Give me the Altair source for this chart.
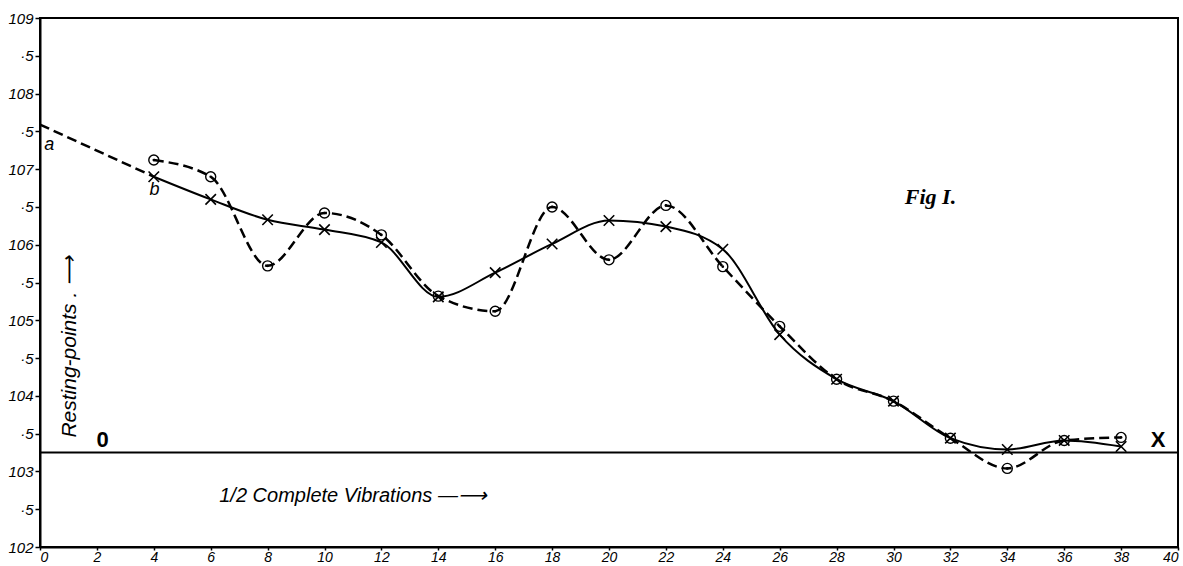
import altair as alt
import pandas as pd

# Half complete vibrations (x) and resting points (y)
half_vibrations = [4, 6, 8, 10, 12, 14, 16, 18, 20, 22, 24, 26, 28, 30, 32, 34, 36, 38]
cross_values = [106.9, 106.6, 106.33, 106.2, 106.03, 105.31, 105.63, 106.01, 106.32,
                106.24, 105.94, 104.81, 104.22, 103.93, 103.44, 103.29, 103.41, 103.33]
circle_values = [107.12, 106.9, 105.72, 106.42, 106.13, 105.32, 105.12, 106.5, 105.8,
                 106.52, 105.71, 104.92, 104.22, 103.93, 103.44, 103.04, 103.41, 103.45]
extrap_x = [0, 4]
extrap_y = [107.59, 106.9]
zero_line_y = 103.25

x_ticks = list(range(0, 41, 2))
y_ticks = [102 + 0.5 * i for i in range(15)]

FONT = "Liberation Sans"

cross_df = pd.DataFrame({"x": half_vibrations, "y": cross_values})
circle_df = pd.DataFrame({"x": half_vibrations, "y": circle_values})
ab_df = pd.DataFrame({"x": extrap_x, "y": extrap_y})
zero_df = pd.DataFrame({"x": [0], "x2": [40], "y": [zero_line_y]})

xs = alt.Scale(domain=[0, 40], nice=False, zero=False)
ys = alt.Scale(domain=[102, 109], nice=False, zero=False)

X = alt.X("x:Q", scale=xs, axis=alt.Axis(values=x_ticks, title=None, format="d",
                                           tickSize=3, labelPadding=0, labelFontSize=14))
Y = alt.Y("y:Q", scale=ys, axis=alt.Axis(
    values=y_ticks, title=None, labelFontSize=15,
    labelExpr="datum.value % 1 == 0 ? format(datum.value, 'd') : '·5'"))

base_c = alt.Chart(cross_df)
base_o = alt.Chart(circle_df)

solid = base_c.mark_line(interpolate="monotone", color="black", strokeWidth=2).encode(x=X, y=Y)
dashed = base_o.mark_line(interpolate="monotone", color="black", strokeWidth=2.5,
                          strokeDash=[10, 5]).encode(x=X, y=Y)
ab_line = alt.Chart(ab_df).mark_line(color="black", strokeWidth=2.5,
                                     strokeDash=[10, 5]).encode(x=X, y=Y)
zero_rule = alt.Chart(zero_df).mark_rule(color="black", strokeWidth=2).encode(
    x=X, x2="x2:Q", y=Y)

crosses = base_c.mark_point(shape="M-1,-1L1,1M-1,1L1,-1", filled=False, color="black",
                            strokeWidth=1.6, size=110, opacity=1).encode(x=X, y=Y)
circles = base_o.mark_point(shape="circle", filled=False, color="black",
                            strokeWidth=1.4, size=100, opacity=1).encode(x=X, y=Y)
dots = base_o.mark_point(shape="circle", filled=True, color="black", size=7,
                         opacity=1).encode(x=X, y=Y)

labels_df = pd.DataFrame({
    "x": [0.15, 3.85, 2.2, 39.3],
    "y": [107.32, 106.73, 103.42, 103.42],
    "t": ["a", "b", "0", "X"],
})
small_lbl = alt.Chart(labels_df.iloc[:2]).mark_text(
    font=FONT, fontStyle="italic", fontSize=18, align="left", baseline="middle",
    color="black").encode(x=X, y=Y, text="t:N")
big_lbl = alt.Chart(labels_df.iloc[2:]).mark_text(
    font=FONT, fontWeight="bold", fontSize=22, align="center", baseline="middle",
    color="black").encode(x=X, y=Y, text="t:N")

fig_df = pd.DataFrame({"x": [31.3], "y": [106.63], "t": ["Fig I."]})
fig_lbl = alt.Chart(fig_df).mark_text(
    font="Liberation Serif", fontStyle="italic", fontWeight="bold", fontSize=22,
    align="center", baseline="middle", color="black").encode(x=X, y=Y, text="t:N")

ylab_df = pd.DataFrame({"x": [1.05], "y": [104.65], "t": ["Resting-points .  ⟶"]})
ylab = alt.Chart(ylab_df).mark_text(
    font=FONT, fontStyle="italic", fontSize=21, angle=270, align="center",
    baseline="middle", color="black").encode(x=X, y=Y, text="t:N")

xlab_df = pd.DataFrame({"x": [6.3], "y": [102.67], "t": ["1/2 Complete Vibrations —⟶"]})
xlab = alt.Chart(xlab_df).mark_text(
    font=FONT, fontStyle="italic", fontSize=20, align="left",
    baseline="middle", color="black").encode(x=X, y=Y, text="t:N")

chart = alt.layer(
    zero_rule, ab_line, dashed, solid, circles, dots, crosses,
    small_lbl, big_lbl, fig_lbl, ylab, xlab
).properties(
    width=1138, height=529, autosize="none",
    padding={"left": 40, "top": 18, "right": 5, "bottom": 19},
    background="white",
).configure_view(
    stroke="black", strokeWidth=2
).configure_axis(
    grid=False, domainColor="black", domainWidth=2, tickColor="black", tickSize=5,
    tickWidth=1.5, labelColor="black", labelFont=FONT, labelFontStyle="italic",
    labelFontSize=14, labelPadding=2
)

chart.save("out.html", embed_options={"renderer": "svg", "actions": False})
